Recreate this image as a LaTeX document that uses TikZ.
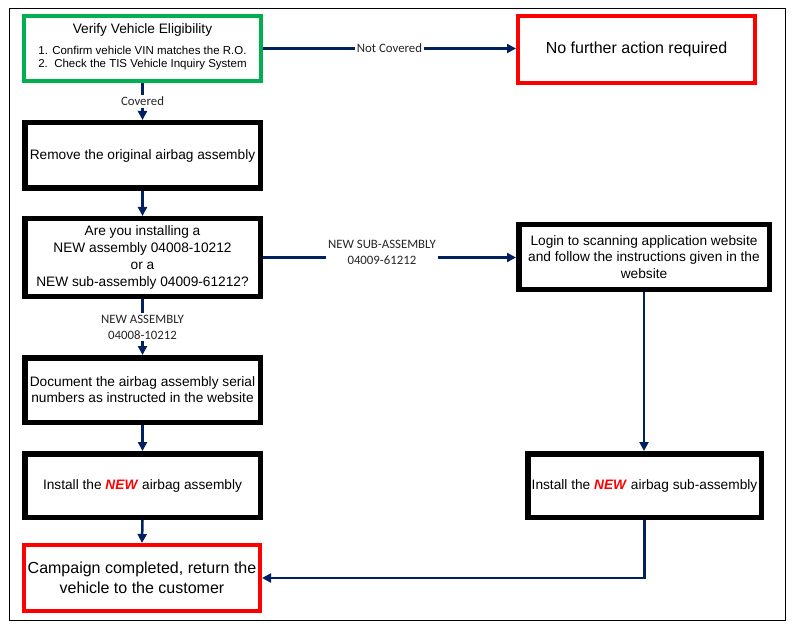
\documentclass[tikz,border=0pt]{standalone}
\usepackage{fontspec}
\setmainfont{Liberation Sans}
\newfontfamily\lblfont{Carlito}
\usetikzlibrary{arrows.meta}
\definecolor{navy}{HTML}{002060}
\definecolor{okgreen}{HTML}{00B050}
\definecolor{stopred}{HTML}{FF0000}
\tikzset{
  box/.style={draw=black, line width=5.5pt, fill=white, inner sep=0pt, align=center,
    font=\fontsize{13.7}{17}\selectfont},
  greenbox/.style={box, draw=okgreen, line width=4pt},
  redbox/.style={box, draw=stopred, line width=4pt, font=\fontsize{16}{20}\selectfont},
  flow/.style={draw=navy, line width=2.5pt, -{Triangle[length=9pt,width=9pt]}},
  lbl/.style={fill=white, inner sep=2pt, align=center, text=black!85,
    font=\lblfont\fontsize{12.8}{16}\selectfont},
}
\begin{document}
\begin{tikzpicture}[x=1pt,y=-1pt]
\useasboundingbox (0,0) rectangle (795,631);
\draw[line width=1pt] (9,9) rectangle (785,620);

\node[greenbox, minimum width=237pt, minimum height=65pt, text depth=6pt, font=\fontsize{11.5}{13}\selectfont] (verify) at (142.5,48.5)
  {{\fontsize{13.7}{16}\selectfont Verify Vehicle Eligibility}\\[8pt]1. Confirm vehicle VIN matches the R.O.\\2.\ \ Check the TIS Vehicle Inquiry System};
\node[redbox, minimum width=237pt, minimum height=67pt] (nofurther) at (636.5,49.5) {No further action required};
\node[box, minimum width=235.5pt, minimum height=65.5pt] (remove) at (142.5,155.5) {Remove the original airbag assembly};
\node[box, minimum width=235.5pt, minimum height=77.5pt] (decision) at (142.5,257.5)
  {Are you installing a\\NEW assembly 04008-10212\\or a\\NEW sub-assembly 04009-61212?};
\node[box, minimum width=250.5pt, minimum height=64.5pt, font=\fontsize{13.7}{16.5}\selectfont] (login) at (644,257)
  {Login to scanning application website\\and follow the instructions given in the\\website};
\node[box, minimum width=235.5pt, minimum height=64.5pt, font=\fontsize{13.7}{16}\selectfont] (document) at (142.5,390)
  {Document the airbag assembly serial\\numbers as instructed in the website};
\node[box, minimum width=235.5pt, minimum height=63.5pt] (install) at (142.5,485.5)
  {Install the \textcolor{stopred}{\textbf{\textit{NEW}}} airbag assembly};
\node[box, minimum width=233.5pt, minimum height=63.5pt] (installsub) at (644.5,485.5)
  {Install the \textcolor{stopred}{\textbf{\textit{NEW}}} airbag sub-assembly};
\node[redbox, minimum width=236pt, minimum height=66pt] (campaign) at (142,578)
  {Campaign completed, return the\\vehicle to the customer};

\draw[flow] (verify.east) -- node[lbl] (lnc) {Not Covered} (verify.east -| nofurther.west);
\draw[flow] (verify.south) -- node[lbl] (lcov) {Covered} (remove.north);
\draw[flow] (remove.south) -- (decision.north);
\draw[flow] (decision.east) -- node[lbl, pos=0.47, yshift=5pt] (lsub) {NEW SUB-ASSEMBLY\\04009-61212} (decision.east -| login.west);
\draw[flow] (decision.south) -- node[lbl] (lnew) {NEW ASSEMBLY\\04008-10212} (document.north);
\draw[flow] (document.south) -- (install.north);
\draw[flow] (install.south) -- (campaign.north);
\draw[flow] (login.south) -- (login.south |- installsub.north);
\draw[flow] (installsub.south) |- (campaign.east);
\end{tikzpicture}
\end{document}
